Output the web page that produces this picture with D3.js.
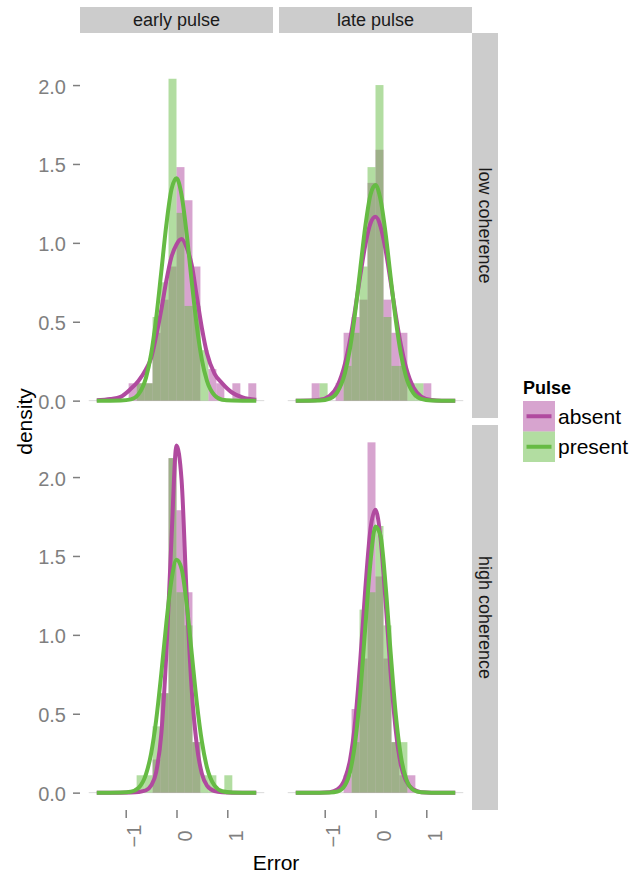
<!DOCTYPE html>
<html>
<head>
<meta charset="utf-8">
<script src="https://cdn.jsdelivr.net/npm/d3@7/dist/d3.min.js"></script>
<style>
  body { margin: 0; background: #fff; }
  text { font-family: "Liberation Sans", Arial, Helvetica, sans-serif; }
</style>
</head>
<body>
<svg id="chart" width="641" height="873"></svg>
<script>
// facets + groups
const cols = ["early pulse", "late pulse"];
const rows = ["low coherence", "high coherence"];
const groups = ["absent", "present"];
const group_line = ["#B04A9F", "#66BB44"];

// histogram bins (lower edges), width pi/20
const bin_lo = [-1.728, -1.571, -1.414, -1.257, -1.100, -0.942, -0.785, -0.628, -0.471, -0.314, -0.157,
                0, 0.157, 0.314, 0.471, 0.628, 0.785, 0.942, 1.100, 1.257, 1.414, 1.571];
const bin_w = 0.157;

// histogram densities, one value per bin
const hist_low_early_absent   = [0,0,0,0,0, 0.11,0.11,0.11,0.43,0.64,0.85,1.48,1.27,0.85,0,0.20,0.11,0,0.11,0,0.11,0];
const hist_low_early_present  = [0,0,0,0,0,0, 0.11,0.11,0.53,0.75,2.04,1.19,0.60,0.60,0.32, 0,0,0,0,0,0,0];
const hist_low_late_absent    = [0,0,0, 0.11,0,0, 0.11,0.43,0.53,0.64,1.38,1.59,0.64,0.43,0.43, 0,0,0.11, 0,0,0,0];
const hist_low_late_present   = [0,0,0,0, 0.11,0,0, 0.22,0.43,0.85,1.48,2.00,0.53,0.22,0.22,0.11,0.11, 0,0,0,0,0];
const hist_high_early_absent  = [0,0,0,0,0,0,0,0, 0.21,0.63,2.12,1.79,1.27,0.32, 0,0,0,0,0,0,0,0];
const hist_high_early_present = [0,0,0,0,0,0, 0.11,0.11,0.42,0.63,2.12,1.27,1.06,0.32,0.11,0.11,0,0.11, 0,0,0,0];
const hist_high_late_absent   = [0,0,0,0,0,0,0, 0.11,0.53,0.85,2.22,1.37,0.85,0.32,0.11,0.11, 0,0,0,0,0,0];
const hist_high_late_present  = [0,0,0,0,0,0,0,0, 0.32,1.16,1.27,1.69,1.06,0.32,0.32, 0,0,0,0,0,0,0];

// density curves, sampled at curve_x
const curve_x = [-1.57, -1.3, -1.1, -0.9, -0.75, -0.6, -0.5, -0.4, -0.3, -0.2, -0.1, 0,
                 0.1, 0.2, 0.3, 0.4, 0.5, 0.6, 0.75, 0.9, 1.1, 1.3, 1.57];
const dens_low_early_absent   = [0.003,0.01,0.024,0.075,0.125,0.20,0.27,0.41,0.575,0.76,0.91,0.99,1.024,0.97,0.86,0.66,0.46,0.30,0.17,0.11,0.05,0.02,0.005];
const dens_low_early_present  = [0,0,0.001,0.008,0.04,0.146,0.295,0.523,0.815,1.114,1.338,1.409,1.303,1.058,0.754,0.472,0.259,0.125,0.033,0.006,0.001,0,0];
const dens_low_late_absent    = [0,0.001,0.005,0.031,0.094,0.236,0.387,0.580,0.793,0.988,1.123,1.165,1.103,0.952,0.750,0.539,0.353,0.211,0.082,0.026,0.004,0,0];
const dens_low_late_present   = [0,0,0.001,0.013,0.055,0.177,0.334,0.560,0.835,1.106,1.304,1.366,1.273,1.056,0.778,0.510,0.297,0.154,0.046,0.011,0.001,0,0];
const dens_high_early_absent  = [0,0,0,0.001,0.004,0.015,0.045,0.13,0.37,0.88,1.6,2.2,1.98,1.25,0.65,0.30,0.12,0.045,0.01,0.002,0,0,0];
const dens_high_early_present = [0,0,0.001,0.006,0.029,0.117,0.248,0.461,0.752,1.075,1.345,1.476,1.419,1.195,0.882,0.570,0.323,0.160,0.044,0.009,0.001,0,0];
const dens_high_late_absent   = [0,0,0,0.003,0.02,0.09,0.21,0.453,0.838,1.295,1.668,1.793,1.609,1.204,0.752,0.392,0.175,0.075,0.02,0.003,0,0,0];
const dens_high_late_present  = [0,0,0,0.001,0.007,0.047,0.134,0.319,0.634,1.053,1.459,1.686,1.626,1.309,0.879,0.492,0.230,0.090,0.016,0.002,0,0,0];

const y_ticks = [0, 0.5, 1, 1.5, 2];
const x_ticks = [-1, 0, 1];

const panels = [
  {r: 0, c: 0, hist: [hist_low_early_absent, hist_low_early_present],   dens: [dens_low_early_absent, dens_low_early_present]},
  {r: 0, c: 1, hist: [hist_low_late_absent, hist_low_late_present],     dens: [dens_low_late_absent, dens_low_late_present]},
  {r: 1, c: 0, hist: [hist_high_early_absent, hist_high_early_present], dens: [dens_high_early_absent, dens_high_early_present]},
  {r: 1, c: 1, hist: [hist_high_late_absent, hist_high_late_present],   dens: [dens_high_late_absent, dens_high_late_present]}
];

/////////////// layout
const svg = d3.select("#chart");
const panel_x = [80, 279];
const panel_y = [33, 425];
const panel_w = 193;
const panel_h = 385;
const strip_h = 26;
const strip_w = 26;
const tick_grey = "#7f7f7f";

const x = d3.scaleLinear().domain([-1.9, 1.9]).range([0, panel_w]);
const y = d3.scaleLinear().domain([-0.11, 2.33]).range([panel_h, 0]);

const line = d3.line()
  .x((d) => x(d[0]))
  .y((d) => y(d[1]))
  .curve(d3.curveMonotoneX);

panels.forEach((p) => {
  let g = svg.append("g")
    .attr("transform", `translate(${panel_x[p.c]}, ${panel_y[p.r]})`);

  // thin base of the empty bins
  g.append("line")
    .attr("x1", x(bin_lo[0]))
    .attr("x2", x(bin_lo[bin_lo.length - 1] + bin_w))
    .attr("y1", y(0))
    .attr("y2", y(0))
    .attr("stroke", "#dadada")
    .attr("stroke-width", 1);

  p.hist.forEach((vals, gi) => {
    g.append("g").selectAll("rect")
      .data(vals.map((v, i) => ({lo: bin_lo[i], v: v})).filter((d) => d.v > 0))
      .enter()
      .append("rect")
      .attr("x", (d) => x(d.lo))
      .attr("width", (d) => x(d.lo + bin_w) - x(d.lo))
      .attr("y", (d) => y(d.v))
      .attr("height", (d) => y(0) - y(d.v))
      .attr("fill", group_line[gi])
      .attr("fill-opacity", 0.5);
  });

  p.dens.forEach((vals, gi) => {
    g.append("path")
      .attr("d", line(curve_x.map((cx, i) => [cx, vals[i]])))
      .attr("fill", "none")
      .attr("stroke", group_line[gi])
      .attr("stroke-width", 4);
  });
});

// top strips
cols.forEach((name, c) => {
  svg.append("rect")
    .attr("x", panel_x[c]).attr("y", panel_y[0] - strip_h)
    .attr("width", panel_w).attr("height", strip_h)
    .attr("fill", "#cccccc");
  svg.append("text")
    .attr("x", panel_x[c] + panel_w / 2)
    .attr("y", panel_y[0] - strip_h / 2)
    .attr("dy", "0.36em")
    .attr("text-anchor", "middle")
    .style("font-size", "18px")
    .style("fill", "#1a1a1a")
    .text(name);
});

// right strips
rows.forEach((name, r) => {
  let sx = panel_x[1] + panel_w;
  svg.append("rect")
    .attr("x", sx).attr("y", panel_y[r])
    .attr("width", strip_w).attr("height", panel_h)
    .attr("fill", "#cccccc");
  svg.append("text")
    .attr("transform", `translate(${sx + strip_w / 2}, ${panel_y[r] + panel_h / 2}) rotate(90)`)
    .attr("dy", "0.36em")
    .attr("text-anchor", "middle")
    .style("font-size", "18px")
    .style("fill", "#1a1a1a")
    .text(name);
});

// y axes (left column only)
rows.forEach((name, r) => {
  let ax = svg.append("g")
    .attr("transform", `translate(${panel_x[0]}, ${panel_y[r]})`)
    .call(d3.axisLeft(y).tickValues(y_ticks).tickFormat(d3.format(".1f"))
      .tickSizeInner(7).tickSizeOuter(0).tickPadding(7));
  ax.select(".domain").remove();
  ax.selectAll(".tick line").attr("stroke", tick_grey).attr("stroke-width", 1.5);
  ax.selectAll(".tick text")
    .attr("dy", "0.4em")
    .style("font-size", "20px")
    .style("font-family", "\"Liberation Sans\", Arial, sans-serif")
    .attr("fill", tick_grey);
});

// x axes (bottom row only)
cols.forEach((name, c) => {
  let ax = svg.append("g")
    .attr("transform", `translate(${panel_x[c]}, ${panel_y[1] + panel_h})`)
    .call(d3.axisBottom(x).tickValues(x_ticks).tickFormat(d3.format("d"))
      .tickSizeInner(8).tickSizeOuter(0));
  ax.select(".domain").remove();
  ax.selectAll(".tick line").attr("stroke", tick_grey).attr("stroke-width", 1.5);
  ax.selectAll(".tick text")
    .attr("x", 0).attr("y", 0).attr("dy", 0)
    .attr("transform", "translate(15, 26) rotate(-90)")
    .attr("text-anchor", "middle")
    .style("font-size", "20px")
    .style("font-family", "\"Liberation Sans\", Arial, sans-serif")
    .attr("fill", tick_grey);
});

// axis titles
svg.append("text")
  .attr("x", (panel_x[0] + panel_x[1] + panel_w) / 2)
  .attr("y", 870)
  .attr("text-anchor", "middle")
  .style("font-size", "21px")
  .text("Error");

svg.append("text")
  .attr("transform", `translate(32, ${(panel_y[0] + panel_y[1] + panel_h) / 2}) rotate(-90)`)
  .attr("text-anchor", "middle")
  .style("font-size", "21px")
  .text("density");

// legend
let legend = svg.append("g").attr("transform", "translate(523, 401)");
legend.append("text")
  .attr("x", 0).attr("y", -7)
  .style("font-size", "18px")
  .style("font-weight", "bold")
  .text("Pulse");

groups.forEach((name, gi) => {
  let row = legend.append("g").attr("transform", `translate(0, ${gi * 30.5})`);
  row.append("rect")
    .attr("width", 32).attr("height", 30.5)
    .attr("fill", group_line[gi])
    .attr("fill-opacity", 0.5);
  row.append("line")
    .attr("x1", 3.5).attr("x2", 28.5)
    .attr("y1", 15.25).attr("y2", 15.25)
    .attr("stroke", group_line[gi])
    .attr("stroke-width", 4);
  row.append("text")
    .attr("x", 35).attr("y", 15.25)
    .attr("dy", "0.36em")
    .style("font-size", "21px")
    .text(name);
});
</script>
</body>
</html>
